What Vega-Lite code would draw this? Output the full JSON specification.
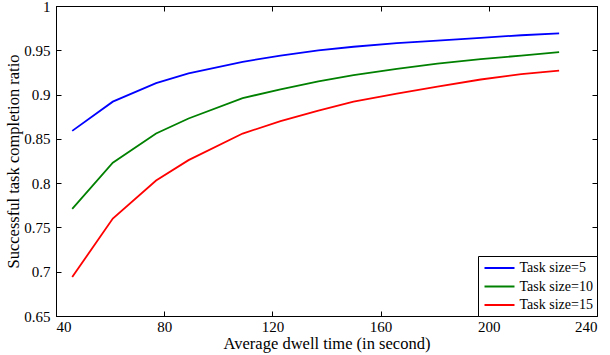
{
  "$schema": "https://vega.github.io/schema/vega-lite/v6.json",
  "width": 541,
  "height": 310,
  "autosize": "none",
  "padding": {"left": 56, "top": 6, "right": 13, "bottom": 39},
  "background": "white",
  "config": {
    "font": "Liberation Serif",
    "view": {"stroke": "black", "strokeWidth": 1},
    "axis": {
      "grid": false,
      "domainColor": "black",
      "domainWidth": 1,
      "tickColor": "black",
      "tickSize": -5,
      "labelColor": "black",
      "titleColor": "black",
      "labelFont": "Liberation Serif",
      "titleFont": "Liberation Serif",
      "labelFontSize": 15,
      "titleFontSize": 16.5,
      "titleFontWeight": "normal"
    },
    "legend": {
      "orient": "bottom-right",
      "offset": 0,
      "strokeColor": "black",
      "fillColor": "white",
      "padding": 3.5,
      "labelFont": "Liberation Serif",
      "labelFontSize": 14,
      "labelColor": "black",
      "symbolType": "M-2,0H2",
      "symbolSize": 225,
      "symbolStrokeWidth": 2,
      "symbolOffset": 9.5,
      "rowPadding": 2.5,
      "labelOffset": 11.5,
      "cornerRadius": 0
    }
  },
  "data": {
    "values": [
      {"time": 46, "ratio": 0.859, "series": "Task size=5"},
      {"time": 61, "ratio": 0.892, "series": "Task size=5"},
      {"time": 77, "ratio": 0.913, "series": "Task size=5"},
      {"time": 89, "ratio": 0.924, "series": "Task size=5"},
      {"time": 109, "ratio": 0.937, "series": "Task size=5"},
      {"time": 123, "ratio": 0.944, "series": "Task size=5"},
      {"time": 137, "ratio": 0.950, "series": "Task size=5"},
      {"time": 150, "ratio": 0.954, "series": "Task size=5"},
      {"time": 166, "ratio": 0.958, "series": "Task size=5"},
      {"time": 181, "ratio": 0.961, "series": "Task size=5"},
      {"time": 197, "ratio": 0.964, "series": "Task size=5"},
      {"time": 212, "ratio": 0.967, "series": "Task size=5"},
      {"time": 226, "ratio": 0.969, "series": "Task size=5"},
      {"time": 46, "ratio": 0.771, "series": "Task size=10"},
      {"time": 61, "ratio": 0.823, "series": "Task size=10"},
      {"time": 77, "ratio": 0.856, "series": "Task size=10"},
      {"time": 89, "ratio": 0.873, "series": "Task size=10"},
      {"time": 109, "ratio": 0.896, "series": "Task size=10"},
      {"time": 123, "ratio": 0.906, "series": "Task size=10"},
      {"time": 137, "ratio": 0.915, "series": "Task size=10"},
      {"time": 150, "ratio": 0.922, "series": "Task size=10"},
      {"time": 166, "ratio": 0.929, "series": "Task size=10"},
      {"time": 181, "ratio": 0.935, "series": "Task size=10"},
      {"time": 197, "ratio": 0.940, "series": "Task size=10"},
      {"time": 212, "ratio": 0.944, "series": "Task size=10"},
      {"time": 226, "ratio": 0.948, "series": "Task size=10"},
      {"time": 46, "ratio": 0.694, "series": "Task size=15"},
      {"time": 61, "ratio": 0.760, "series": "Task size=15"},
      {"time": 77, "ratio": 0.803, "series": "Task size=15"},
      {"time": 89, "ratio": 0.826, "series": "Task size=15"},
      {"time": 109, "ratio": 0.856, "series": "Task size=15"},
      {"time": 123, "ratio": 0.870, "series": "Task size=15"},
      {"time": 137, "ratio": 0.882, "series": "Task size=15"},
      {"time": 150, "ratio": 0.892, "series": "Task size=15"},
      {"time": 166, "ratio": 0.901, "series": "Task size=15"},
      {"time": 181, "ratio": 0.909, "series": "Task size=15"},
      {"time": 197, "ratio": 0.917, "series": "Task size=15"},
      {"time": 212, "ratio": 0.923, "series": "Task size=15"},
      {"time": 226, "ratio": 0.927, "series": "Task size=15"}
    ]
  },
  "layer": [
    {
      "mark": {"type": "line", "strokeWidth": 1.8},
      "encoding": {
        "x": {
          "field": "time", "type": "quantitative",
          "scale": {"domain": [40, 240], "nice": false, "zero": false},
          "axis": {"values": [40, 80, 120, 160, 200, 240], "title": "Average dwell time (in second)", "labelPadding": 8, "titlePadding": 1}
        },
        "y": {
          "field": "ratio", "type": "quantitative",
          "scale": {"domain": [0.65, 1], "nice": false, "zero": false},
          "axis": {"values": [0.65, 0.7, 0.75, 0.8, 0.85, 0.9, 0.95, 1], "format": "~g", "title": "Successful task completion ratio", "labelPadding": 11, "titlePadding": 2}
        },
        "color": {
          "field": "series", "type": "nominal",
          "scale": {"domain": ["Task size=5", "Task size=10", "Task size=15"], "range": ["#0000ff", "#008000", "#ff0000"]},
          "legend": {"title": null}
        }
      }
    },
    {
      "mark": {"type": "line", "opacity": 0},
      "encoding": {
        "x": {"field": "time", "type": "quantitative", "axis": {"orient": "top", "values": [40, 80, 120, 160, 200, 240], "labels": false, "title": null}},
        "y": {"field": "ratio", "type": "quantitative", "axis": {"orient": "right", "values": [0.65, 0.7, 0.75, 0.8, 0.85, 0.9, 0.95, 1], "labels": false, "title": null}}
      }
    }
  ],
  "resolve": {"axis": {"x": "independent", "y": "independent"}}
}
